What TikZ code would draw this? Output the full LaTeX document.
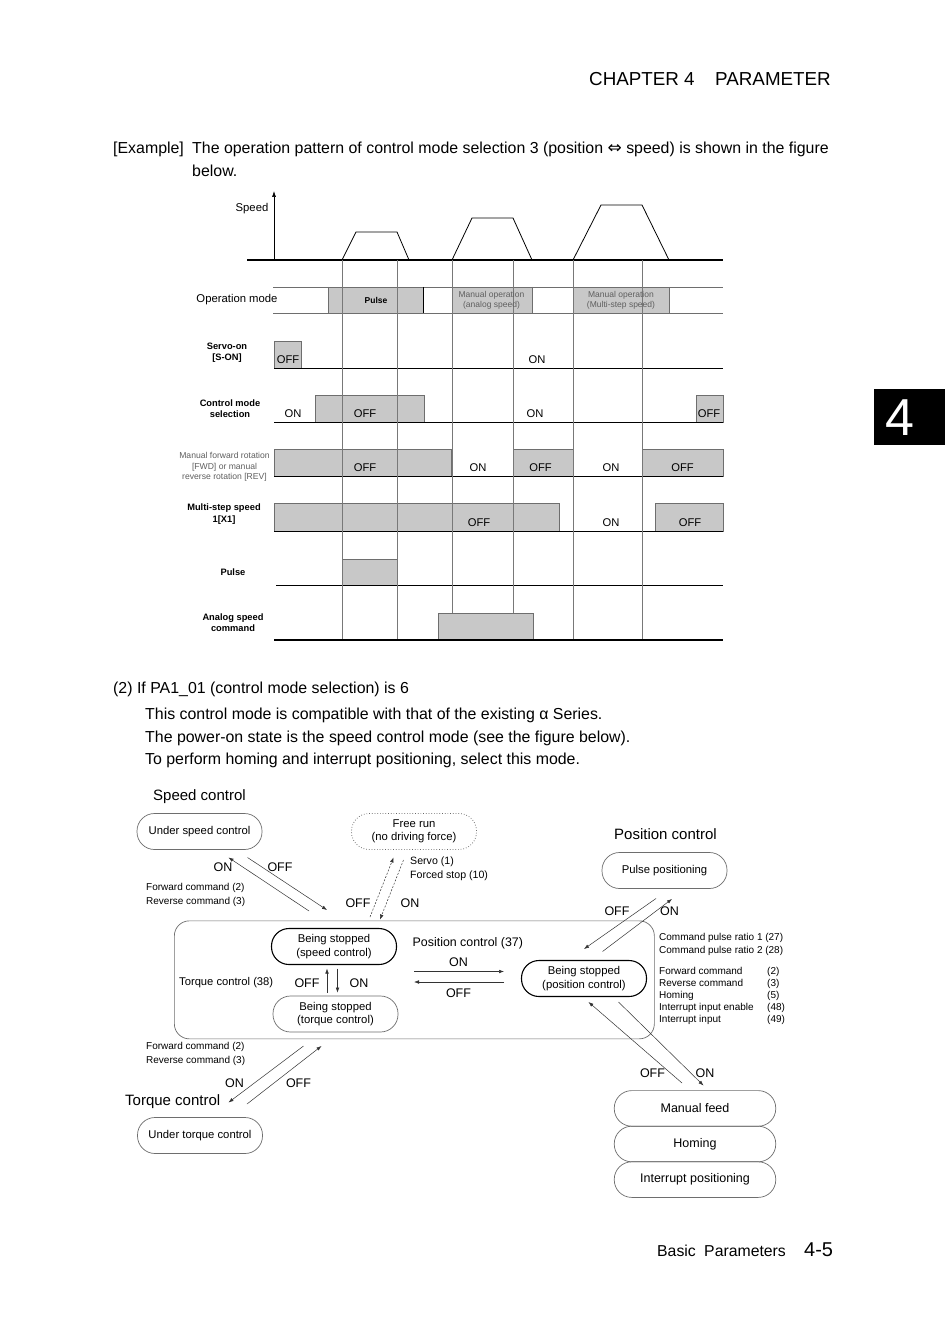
\documentclass[tikz,border=0pt]{standalone}
\usepackage{fontspec}
\setmainfont{Liberation Sans}
\newfontfamily\djv{DejaVu Sans}
\usetikzlibrary{arrows.meta}
\definecolor{sgfill}{RGB}{200,200,200}
\definecolor{edgec}{RGB}{110,110,110}
\definecolor{gridc}{RGB}{120,120,120}
\definecolor{labgray}{RGB}{95,95,95}
\newcommand{\fsz}[2]{\fontsize{#1}{#2}\selectfont}
\tikzset{
  tl/.style={anchor=west, inner sep=0pt, yshift=-2pt, font=\fsz{15.9}{19}},
  lb/.style={inner sep=0pt, align=center, font=\fsz{11.3}{13}},
  blb/.style={inner sep=0pt, align=center, font=\bfseries\fsz{9.3}{11.3}},
  sv/.style={inner sep=0pt, font=\fsz{11.2}{13}},
  sig/.style={fill=sgfill, draw=edgec, line width=0.6pt},
  bl/.style={line width=0.9pt},
  gl/.style={draw=gridc, line width=0.7pt},
  st/.style={draw=edgec, line width=0.7pt, rounded corners=17.5pt, minimum width=125pt, minimum height=36pt, inner sep=0pt, align=center, font=\fsz{11.3}{13.5}},
  stk/.style={st, draw=black, line width=1.1pt},
  onoff/.style={inner sep=0pt, font=\fsz{12.5}{14}},
  sm/.style={anchor=west, inner sep=0pt, align=left, font=\fsz{10}{13.2}},
  ttl/.style={anchor=west, inner sep=0pt, yshift=-2pt, font=\fsz{15}{18}},
  arr/.style={draw=black!80, line width=0.5pt, -{Latex[length=5pt,width=3.6pt]}},
  darr/.style={arr, dash pattern=on 2pt off 1.5pt},
}
\begin{document}
\begin{tikzpicture}[x=1pt,y=-1pt]
\useasboundingbox (0,0) rectangle (950,1337);
\fill[white] (0,0) rectangle (950,1337);

% header / footer / tab
\node[anchor=west, inner sep=0pt, font=\fsz{18.8}{22}] (hdr1) at (589,79) {CHAPTER 4};
\node[anchor=west, inner sep=0pt, font=\fsz{18.8}{22}] (hdr2) at (715,79) {PARAMETER};
\node[fill=black, minimum width=71pt, minimum height=56pt, inner sep=0pt, anchor=north west] (tabbox) at (874,389) {};
\node[text=white, inner sep=0pt, font=\fsz{52}{52}] (tabnum) at (900,418) {4};
\node[anchor=west, inner sep=0pt, font=\fsz{15.8}{19}] (ft1) at (657,1251) {Basic\hspace{4pt} Parameters};
\node[anchor=west, inner sep=0pt, font=\fsz{20}{22}] (ft2) at (804,1250) {4-5};

% example text
\node[tl] (ex) at (113,147) {[Example]};
\node[tl] (ex1) at (192,147) {The operation pattern of control mode selection 3 (position {\djv\fsz{17}{19}⇔} speed) is shown in the figure};
\node[tl] (ex2) at (192,169) {below.};

% ---------- timing chart ----------
\node[lb] (lspeed) at (252,209) {Speed};
\coordinate (ax0) at (274,260);
\coordinate (ax1) at (274,191);
\draw[line width=0.6pt, -{Latex[length=6pt,width=4pt]}] (ax0) -- (ax1);
\draw[line width=0.8pt] (342,260) -- (356,232) -- (397,232) -- (409,260);
\draw[line width=0.8pt] (452,260) -- (472,218) -- (513,218) -- (532,260);
\draw[line width=0.8pt] (573,260) -- (601,205) -- (642,205) -- (669,260);
\draw[line width=1.4pt] (247,260) -- (723,260);

% operation mode
\node[lb] (lop) at (237,300) {Operation mode};
\fill[sgfill] (328,287) rectangle (423,313);
\fill[sgfill] (452,287) rectangle (532,313);
\fill[sgfill] (573,287) rectangle (669,313);
\draw[edgec, line width=0.6pt] (273,287) -- (723,287) (273,313) -- (723,313)
  (328,287) -- (328,313) (452,287) -- (452,313) (532,287) -- (532,313) (669,287) -- (669,313);
\draw[line width=0.9pt] (423,287) -- (423,313) (573,287) -- (573,313);

% servo-on
\node[blb] (lsrv) at (227,353) {Servo-on\\{}[S-ON]};
\filldraw[sig] (274,341) rectangle (301,368);
\draw[bl] (274,368) -- (723,368);

% control mode selection
\node[blb] (lcms) at (230,409) {Control mode\\selection};
\filldraw[sig] (315,395) rectangle (424,422);
\filldraw[sig] (696,395) rectangle (723,422);
\draw[bl] (274,422) -- (723,422);

% manual fwd/rev
\node[inner sep=0pt, align=center, text=labgray, font=\fsz{8.6}{10.4}] (lman) at (224.5,467) {Manual forward rotation\\{}[FWD] or manual\\reverse rotation [REV]};
\filldraw[sig] (274,449) rectangle (451,476);
\filldraw[sig] (513,449) rectangle (573,476);
\filldraw[sig] (642,449) rectangle (723,476);
\draw[bl] (274,476) -- (723,476);

% multi-step
\node[blb] (lmul) at (224,514) {Multi-step speed\\1[X1]};
\filldraw[sig] (274,503) rectangle (559,531);
\filldraw[sig] (655,503) rectangle (723,531);
\draw[bl] (274,531) -- (723,531);

% pulse
\node[blb] (lpul) at (233,572.5) {Pulse};
\filldraw[sig] (342,559) rectangle (397,585);
\draw[bl] (276,585) -- (723,585);

% grid lines
\draw[gl] (342,260) -- (342,640) (397,260) -- (397,640) (452,260) -- (452,640)
  (513,260) -- (513,640) (573,260) -- (573,640) (642,260) -- (642,640);

% analog speed command
\node[blb] (lana) at (233,623) {Analog speed\\command};
\filldraw[sig] (438,613) rectangle (533,640);
\draw[line width=1.4pt] (274,640) -- (723,640);

% texts in rows
\node[inner sep=0pt, font=\bfseries\fsz{8.5}{10}] (tpulse) at (376,300) {Pulse};
\node[inner sep=0pt, align=center, text=labgray, font=\fsz{8.5}{10}] (tman1) at (491.5,300) {Manual operation\\(analog speed)};
\node[inner sep=0pt, align=center, text=labgray, font=\fsz{8.5}{10}] (tman2) at (621,300) {Manual operation\\(Multi-step speed)};
\node[sv] (s1) at (288,359.5) {OFF};
\node[sv] (s2) at (537,359.5) {ON};
\node[sv] (c1) at (293,413.5) {ON};
\node[sv] (c2) at (365,413.5) {OFF};
\node[sv] (c3) at (535,413.5) {ON};
\node[sv] (c4) at (709,413.5) {OFF};
\node[sv] (m1) at (365,467.5) {OFF};
\node[sv] (m2) at (478,467.5) {ON};
\node[sv] (m3) at (540.5,467.5) {OFF};
\node[sv] (m4) at (611,467.5) {ON};
\node[sv] (m5) at (682.5,467.5) {OFF};
\node[sv] (x1) at (479,522.5) {OFF};
\node[sv] (x2) at (611,522.5) {ON};
\node[sv] (x3) at (690,522.5) {OFF};

% ---------- section (2) ----------
\node[tl] (p0) at (113,687) {(2) If PA1\_01 (control mode selection) is 6};
\node[tl] (p1) at (145,713) {This control mode is compatible with that of the existing α Series.};
\node[tl] (p2) at (145,736) {The power-on state is the speed control mode (see the figure below).};
\node[tl] (p3) at (145,758) {To perform homing and interrupt positioning, select this mode.};

% ---------- state diagram ----------
\node[ttl] (tspeed) at (153,795) {Speed control};
\node[st] (usc) at (199.5,831.5) {Under speed control};
\node[st, draw=black!60, dotted, line width=0.8pt] (free) at (414,831.5) {Free run\\(no driving force)};
\node[ttl] (tpos) at (614,832.5) {Position control};
\node[st] (pp) at (664.5,870.5) {Pulse positioning};

\node[draw=edgec, line width=0.7pt, rounded corners=15pt, minimum width=480pt, minimum height=118pt, inner sep=0pt, anchor=north west] (cont) at (174,920.5) {};
\node[stk] (bss) at (334,946.5) {Being stopped\\(speed control)};
\node[st] (bst) at (335.5,1014) {Being stopped\\(torque control)};
\node[stk] (bsp) at (584,978.5) {Being stopped\\(position control)};
\node[anchor=west, inner sep=0pt, font=\fsz{11.2}{13}] (ttc) at (179,983) {Torque control (38)};
\node[anchor=west, inner sep=0pt, font=\fsz{12.4}{14}] (tpc) at (412.5,943) {Position control (37)};

% torque <-> speed (inside)
\draw[arr] ([xshift=-8.5pt,yshift=3pt]bst.north) -- ([xshift=-7pt,yshift=-3.5pt]bss.south);
\draw[arr] ([xshift=3.5pt,yshift=-3.5pt]bss.south) -- ([xshift=2pt,yshift=3pt]bst.north);
\node[onoff] (o1) at (307,983.5) {OFF};
\node[onoff] (o2) at (359,983.5) {ON};

% speed <-> position (inside)
\coordinate (pa1) at (414,971.5);
\coordinate (pa2) at (504,971.5);
\coordinate (pa3) at (504,982);
\coordinate (pa4) at (414,982);
\draw[arr] (pa1) -- (pa2);
\draw[arr] (pa3) -- (pa4);
\node[onoff] (o3) at (458.5,962) {ON};
\node[onoff] (o4) at (458.5,993) {OFF};

% under speed control <-> container
\coordinate (ua1) at (309,911);
\coordinate (ua2) at (228.5,857.5);
\coordinate (ua3) at (247.5,857.5);
\coordinate (ua4) at (327,910);
\draw[arr] (ua1) -- (ua2);
\draw[arr] (ua3) -- (ua4);
\node[onoff] (o5) at (223,867.5) {ON};
\node[onoff] (o6) at (280,867.5) {OFF};
\node[sm] (fc1) at (146,895) {Forward command (2)\\Reverse command (3)};

% free run <-> container
\coordinate (fa1) at (370,917);
\coordinate (fa2) at (393.5,857.5);
\coordinate (fa3) at (403.5,860);
\coordinate (fa4) at (380,919.5);
\draw[darr] (fa1) -- (fa2);
\draw[darr] (fa3) -- (fa4);
\node[onoff] (o7) at (358,903.5) {OFF};
\node[onoff] (o8) at (410,903.5) {ON};
\node[anchor=west, inner sep=0pt, align=left, font=\fsz{10.6}{13.5}] (servo) at (410,868.5) {Servo (1)\\Forced stop (10)};

% pulse positioning <-> container
\coordinate (qa1) at (656,898.5);
\coordinate (qa2) at (584,949);
\coordinate (qa3) at (602.5,951.5);
\coordinate (qa4) at (672,899);
\draw[arr] (qa1) -- (qa2);
\draw[arr] (qa3) -- (qa4);
\node[onoff] (o9) at (617,911) {OFF};
\node[onoff] (o10) at (669.5,911) {ON};

% right labels
\node[sm] (cpr) at (659,944.8) {Command pulse ratio 1 (27)\\Command pulse ratio 2 (28)};
\node[anchor=west, inner sep=0pt, align=left, font=\fsz{10}{12.1}] (sig1) at (659,995.7) {Forward command\\Reverse command\\Homing\\Interrupt input enable\\Interrupt input};
\node[anchor=west, inner sep=0pt, align=left, font=\fsz{10}{12.1}] (sig2) at (767,995.7) {(2)\\(3)\\(5)\\(48)\\(49)};

% torque control (outside)
\coordinate (ta1) at (303.5,1046);
\coordinate (ta2) at (228.5,1102.5);
\coordinate (ta3) at (247,1104);
\coordinate (ta4) at (321.5,1046);
\draw[arr] (ta1) -- (ta2);
\draw[arr] (ta3) -- (ta4);
\node[onoff] (o11) at (234.5,1083.5) {ON};
\node[onoff] (o12) at (298.5,1083.5) {OFF};
\node[sm] (fc2) at (146,1054) {Forward command (2)\\Reverse command (3)};
\node[ttl] (ttorque) at (125,1099.5) {Torque control};
\node[st] (utc) at (200,1135.5) {Under torque control};

% manual feed group
\node[st, minimum width=161.5pt, minimum height=35.6pt, font=\fsz{12.5}{14}] (mf) at (695,1108.4) {Manual feed};
\node[st, minimum width=161.5pt, minimum height=35.6pt, font=\fsz{12.5}{14}] (hm) at (695,1144) {Homing};
\node[st, minimum width=161.5pt, minimum height=35.6pt, font=\fsz{12.5}{14}] (ip) at (695,1179.6) {Interrupt positioning};
\coordinate (ma1) at (682,1083);
\coordinate (ma2) at (588.5,1002);
\coordinate (ma3) at (618.5,1002);
\coordinate (ma4) at (703.5,1085.5);
\draw[arr] (ma1) -- (ma2);
\draw[arr] (ma3) -- (ma4);
\node[onoff] (o13) at (652.5,1073.5) {OFF};
\node[onoff] (o14) at (705,1073.5) {ON};
\end{tikzpicture}
\end{document}
